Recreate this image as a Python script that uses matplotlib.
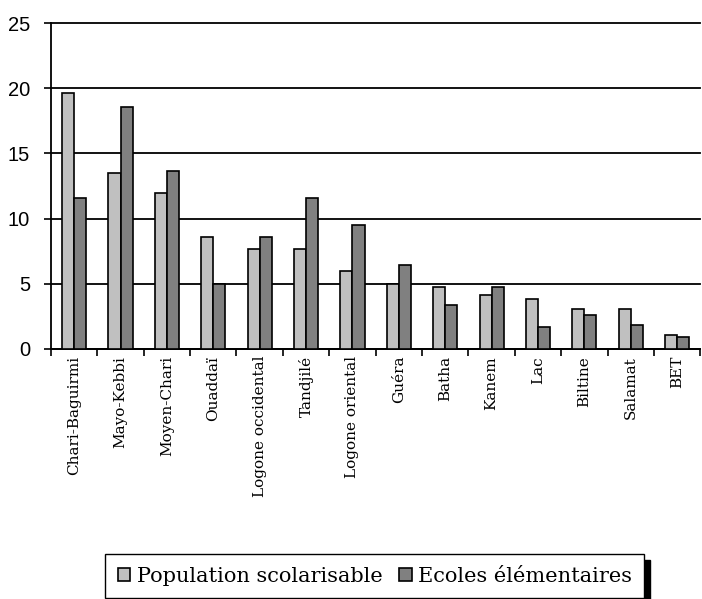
import matplotlib
matplotlib.use('Agg')
import matplotlib.pyplot as plt
import numpy as np

# Data (percent)
regions = ["Chari-Baguirmi", "Mayo-Kebbi", "Moyen-Chari", "Ouaddaï",
           "Logone occidental", "Tandjilé", "Logone oriental", "Guéra",
           "Batha", "Kanem", "Lac", "Biltine", "Salamat", "BET"]
population = [19.6, 13.5, 12.0, 8.6, 7.7, 7.7, 6.0, 5.0, 4.75, 4.15, 3.8, 3.05, 3.05, 1.05]
ecoles = [11.6, 18.55, 13.65, 4.95, 8.6, 11.6, 9.5, 6.45, 3.35, 4.75, 1.65, 2.6, 1.85, 0.9]

plt.rcParams['font.family'] = ['DejaVu Serif']

fig = plt.figure(figsize=(7.02, 5.99), dpi=100)
ax = fig.add_axes([0.0726, 0.4174, 0.925, 0.5442])

x = np.arange(len(regions))
w = 0.26
ax.bar(x - w / 2, population, w, color='#c0c0c0', edgecolor='black', linewidth=1.2,
       label='Population scolarisable', zorder=3)
ax.bar(x + w / 2, ecoles, w, color='#808080', edgecolor='black', linewidth=1.2,
       label='Ecoles élémentaires', zorder=3)

ax.set_xlim(-0.5, len(regions) - 0.5)
ax.set_ylim(0, 25)
ax.set_yticks([0, 5, 10, 15, 20, 25])
ax.yaxis.grid(True, color='black', linewidth=1.3, zorder=0)
ax.set_axisbelow(True)
for gl in ax.get_ygridlines():
    gl.set_clip_on(False)

ax.set_xticks(x)
ax.set_xticklabels(regions, rotation=90, fontsize=11)
ax.set_xticks(np.arange(len(regions) + 1) - 0.5, minor=True)
ax.tick_params(axis='x', which='major', length=0, pad=5)
ax.tick_params(axis='x', which='minor', length=5, width=1.2, direction='out')
ax.tick_params(axis='y', length=5, width=1.2, pad=10)
for lbl in ax.get_yticklabels():
    lbl.set_fontfamily('Liberation Sans')
    lbl.set_fontsize(14.5)

for s in ['top', 'right']:
    ax.spines[s].set_visible(False)
for s in ['left', 'bottom']:
    ax.spines[s].set_linewidth(1.3)

leg = fig.legend(loc='center', bbox_to_anchor=(0.534, 0.038), ncol=2, fontsize=15,
                 frameon=True, fancybox=False, edgecolor='black',
                 handlelength=0.6, handleheight=0.6, handletextpad=0.3,
                 columnspacing=0.8, borderpad=0.6, borderaxespad=0,
                 shadow={'color': 'black', 'alpha': 1.0, 'ox': 4, 'oy': -4})
leg.get_frame().set_linewidth(1.0)

plt.savefig('out.png', dpi=100)
plt.close()
